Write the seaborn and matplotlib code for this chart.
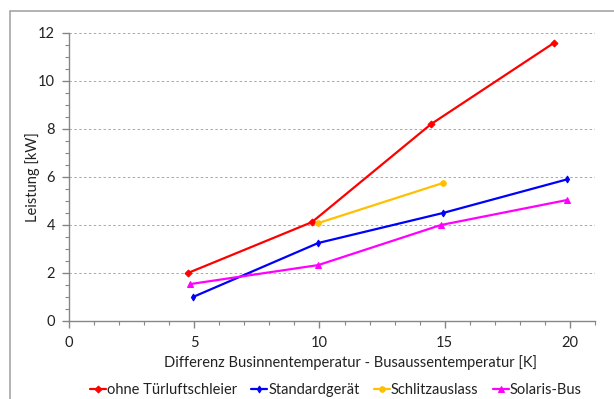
import matplotlib
matplotlib.use("Agg")
import matplotlib.pyplot as plt
from matplotlib.patches import Rectangle
from matplotlib.ticker import MultipleLocator
import seaborn as sns
import pandas as pd

# Measured heating power per configuration
series_names = ["ohne Türluftschleier", "Standardgerät", "Schlitzauslass", "Solaris-Bus"]
x_ohne = [4.75, 9.7, 14.45, 19.35]
y_ohne = [2.0, 4.12, 8.2, 11.58]
x_standard = [4.95, 9.95, 14.93, 19.88]
y_standard = [1.0, 3.25, 4.5, 5.9]
x_schlitz = [9.95, 14.93]
y_schlitz = [4.08, 5.75]
x_solaris = [4.85, 9.95, 14.85, 19.88]
y_solaris = [1.54, 2.33, 4.0, 5.04]

colors = ["#FF0000", "#0000FF", "#FFC000", "#FF00FF"]
markers = ["D", "d", "o", "^"]
msizes = [3.5, 3.5, 4, 4]

sns.set_theme(style="white")
plt.rcParams["font.family"] = ["Lato", "DejaVu Sans"]

fig = plt.figure(figsize=(6.14, 3.99), dpi=100)
ax = fig.add_axes([69 / 614, 1 - 321 / 399, (595 - 69) / 614, (321 - 33) / 399])

# outer chart frame
fig.patches.append(Rectangle((10 / 614, -0.05), 1.1, 1 - 11 / 399 + 0.05,
                             transform=fig.transFigure, fill=False,
                             edgecolor="#A6A6A6", linewidth=1.2))

data = [(x_ohne, y_ohne), (x_standard, y_standard), (x_schlitz, y_schlitz), (x_solaris, y_solaris)]
for (xs, ys), name, c, m, ms in zip(data, series_names, colors, markers, msizes):
    df = pd.DataFrame({"x": xs, "y": ys})
    sns.lineplot(data=df, x="x", y="y", ax=ax, color=c, marker=m, markersize=ms,
                 markeredgecolor=c, linewidth=1.6, label=name)

ax.set_xlim(0, 21)
ax.set_ylim(0, 12)
ax.xaxis.set_major_locator(MultipleLocator(5))
ax.xaxis.set_minor_locator(MultipleLocator(1))
ax.yaxis.set_major_locator(MultipleLocator(2))
ax.yaxis.set_minor_locator(MultipleLocator(0.5))

ax.grid(True, axis="y", which="major", color="#A8A8A8", linestyle=(0, (2.5, 2.5)), linewidth=0.7)
ax.grid(False, axis="x")
for side in ["top", "right"]:
    ax.spines[side].set_visible(False)
for side in ["left", "bottom"]:
    ax.spines[side].set_color("#868686")
    ax.spines[side].set_linewidth(1.0)

ax.tick_params(axis="both", which="major", direction="out", length=5, color="#868686",
               width=1.0, labelsize=10.5, labelcolor="#222222", bottom=True, left=True)
ax.tick_params(axis="both", which="minor", direction="out", length=3, color="#868686",
               width=0.8, bottom=True, left=True)
ax.tick_params(axis="x", which="major", pad=6)
ax.tick_params(axis="y", which="major", pad=5)

ax.set_xlabel("Differenz Businnentemperatur - Busaussentemperatur [K]", fontsize=10.5,
              color="#222222", labelpad=3)
ax.xaxis.set_label_coords((351 - 69) / 526, -0.12)
ax.set_ylabel("Leistung [kW]", fontsize=10.5, color="#222222")
ax.yaxis.set_label_coords(-(69 - 40) / 526, 0.5)

ax.legend(loc="center", bbox_to_anchor=(0.547, 1 - 390 / 399), bbox_transform=fig.transFigure,
          ncol=4, frameon=False, fontsize=10.5, handlelength=1.1, handletextpad=0.05,
          columnspacing=1.0, labelcolor="#222222")

fig.savefig("out.png", dpi=100)
